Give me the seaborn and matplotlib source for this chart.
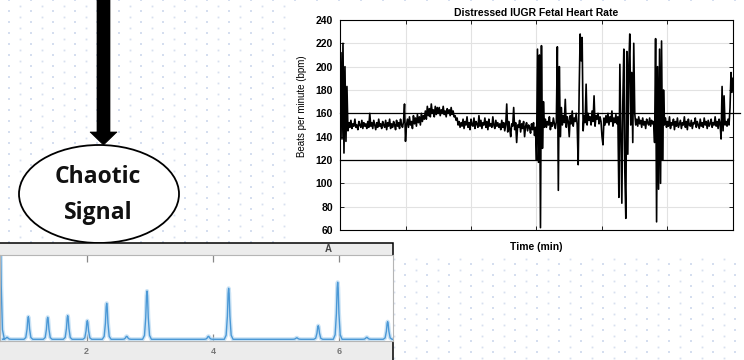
import numpy as np
import matplotlib
matplotlib.use("Agg")
import matplotlib.pyplot as plt
from matplotlib.patches import Ellipse, Polygon, Rectangle
import seaborn as sns

# === 1. Datos ===
# frecuencia cardiaca (bpm), un valor por pixel aprox.
hr_inicio = [150, 212, 138, 220, 126, 200, 136, 183]
hr_base_1 = [145, 152, 148, 154, 147, 151, 149, 155, 148, 150, 146, 153, 150, 148, 154, 147,
             152, 149, 151, 147, 153, 148, 160, 149, 152, 147, 154, 150, 146, 152, 148, 155,
             149, 151, 147, 153, 150, 148, 154, 146, 152, 149, 155, 147, 151, 148, 153, 150,
             146, 154, 149, 152, 147, 155, 150, 148, 153]
hr_subida = [168, 136, 150, 155, 148, 157, 150, 153, 147, 158, 151, 156, 149, 159, 152, 157,
             150, 160, 153, 158, 155, 162, 155, 166, 158, 164, 157, 168, 160, 163, 157, 166,
             159, 165]
hr_meseta = [160, 165, 158, 163, 160, 166, 159, 162, 157, 164, 160, 163, 158, 165, 159, 162,
             157, 158, 154, 156, 150, 153, 148, 152]
hr_base_2 = [149, 155, 147, 153, 150, 157, 148, 152, 146, 155, 150, 149, 156, 147, 153, 151,
             148, 158, 149, 154, 147, 152, 150, 156, 148, 153, 146, 155, 149, 151, 148, 157,
             150, 147, 154, 149, 152, 148,
             151, 146, 154, 148, 152, 145, 150, 168, 144, 153, 147, 140, 151, 149, 165, 146,
             152, 135, 150, 148, 154, 144, 151, 147, 153, 140, 149, 152, 145, 150, 148, 143,
             151, 146, 152, 141, 148]
hr_caos_1 = [120, 215, 118, 210, 62, 218, 130, 170, 148,
             155, 148, 153, 150, 157, 146, 152, 149, 156, 151, 147, 153,
             217, 94, 200, 140, 165,
             150, 158, 152, 172, 148, 157, 153, 140, 158, 151, 162, 149, 156, 153, 160, 150,
             116, 180, 228, 205, 225, 145,
             158, 152, 185, 150, 160, 154, 157, 150, 162, 153, 175, 149, 158, 155, 160, 151,
             157, 153, 140, 133, 156, 150, 158,
             152, 160, 150, 157, 153, 162, 149, 156, 152, 159, 151, 157]
hr_caos_2 = [88, 202, 140, 83, 170, 215, 110, 70, 213, 125, 200, 228, 150, 195, 135, 220,
             160, 150,
             155, 149, 157, 151, 154, 148, 156, 150, 153, 147, 155, 152, 150, 156, 149, 154,
             151, 153,
             135, 224, 67, 200, 95, 215, 100, 222, 120, 180]
hr_final = [150, 156, 148, 153, 149, 157, 147, 152, 150, 155, 146, 153, 149, 156, 148, 151,
            154, 147, 152, 150, 157, 148, 153, 146, 155, 150, 149, 154, 147, 152, 151, 156,
            148, 153, 150, 147, 155, 149, 152, 148, 156, 150, 153, 147, 154, 149, 151, 155,
            148, 152, 150, 157, 149, 153, 147, 155, 151,
            138, 183, 145, 175, 150,
            153, 149, 155, 150, 165, 195, 178, 190]

hr = np.array(hr_inicio + hr_base_1 + hr_subida + hr_meseta + hr_base_2
              + hr_caos_1 + hr_caos_2 + hr_final, dtype=float)
t_min = np.linspace(0, 6, len(hr))

y_ticks = [60, 80, 100, 120, 140, 160, 180, 200, 220, 240]
lineas_ref = [160, 120]

# espectro (panel A): posicion y altura de los picos
pico_pos = [0.625, 0.737, 1.075, 1.382, 1.699, 2.010, 2.317, 2.634, 2.956, 3.930, 4.250,
            5.330, 5.670, 5.978, 6.440, 6.770]
pico_alto = [120, 2, 22.6, 22, 23.6, 18.6, 36, 3, 48.3, 3, 51, 1.5, 13.6, 57, 2, 17.6]
x_ticks_a = [2, 4, 6]

# === 2. Figura ===
fig = plt.figure(figsize=(7.44, 3.6), dpi=100)


def caja(x0, y0, x1, y1):
    return [x0 / 744, 1 - y1 / 360, (x1 - x0) / 744, (y1 - y0) / 360]


# fondo punteado (coordenadas en pixeles)
bg = fig.add_axes([0, 0, 1, 1])
bg.set_xlim(0, 744)
bg.set_ylim(360, 0)
bg.axis("off")
gx, gy = np.meshgrid(np.arange(9, 744, 22), np.arange(0, 362, 11))
bg.plot(gx.ravel(), gy.ravel(), "s", ms=1.9, color="#d5deef", mew=0, zorder=1)
gx2, gy2 = np.meshgrid(np.arange(-2, 744, 22), np.arange(5.5, 362, 11))
bg.plot(gx2.ravel(), gy2.ravel(), "s", ms=1.3, color="#d8e0ef", mew=0, zorder=1)

bg.add_patch(Rectangle((293, 5), 460, 250, facecolor="white", edgecolor="none", zorder=3))

# flecha y elipse
bg.add_patch(Polygon([(97, -5), (110, -5), (110, 132), (117, 132), (103.5, 145),
                      (90, 132), (97, 132)], closed=True, facecolor="black",
                     edgecolor="black", lw=0.5, zorder=3))
bg.add_patch(Ellipse((99, 194), 160, 98, facecolor="white", edgecolor="black", lw=1.3,
                     zorder=3))
bg.text(98, 177, "Chaotic", ha="center", va="center", fontsize=16.5,
        fontweight="bold", family="Open Sans", color="#111111", zorder=4)
bg.text(98, 213, "Signal", ha="center", va="center", fontsize=16.5,
        fontweight="bold", family="Open Sans", color="#111111", zorder=4)

# panel A: marco gris
bg.add_patch(Rectangle((-2, 243), 395, 130, facecolor="#ececec", edgecolor="black", lw=1.1,
                       zorder=3))
bg.text(328, 249, "A", ha="center", va="center", fontsize=7, fontweight="bold",
        color="#444444", family="Liberation Sans", zorder=4)

# === 3. Frecuencia cardiaca ===
ax = fig.add_axes(caja(340, 20, 733, 230))
sns.lineplot(x=t_min, y=hr, ax=ax, color="black", lw=1.2, estimator=None, sort=False)
for v in lineas_ref:
    ax.plot([0, 6.1 if v == 160 else 6], [v, v], color="black", lw=0.9, clip_on=False)
ax.set_xlim(0, 6)
ax.set_ylim(60, 240)
ax.set_yticks(y_ticks)
ax.set_yticklabels([str(v) for v in y_ticks], fontweight="bold", fontsize=7.5,
                   family="Liberation Sans")
ax.set_xticks([1, 2, 3, 4, 5])
ax.set_xticklabels([])
ax.tick_params(direction="in", length=3, width=0.6, right=True, top=True, pad=5)
ax.grid(True, color="#e2e2e2", lw=0.8)
ax.set_axisbelow(True)
for s in ax.spines.values():
    s.set_color("black")
    s.set_linewidth(0.8)
ax.set_title("Distressed IUGR Fetal Heart Rate", fontsize=7.5, fontweight="bold",
             family="Liberation Sans", pad=3)
ax.set_xlabel("Time (min)", fontsize=7.5, fontweight="bold", family="Liberation Sans")
ax.xaxis.set_label_coords(0.5, -0.055)
ax.set_ylabel("Beats per minute (bpm)", fontsize=7, family="Liberation Sans")
ax.yaxis.set_label_coords(-0.085, 0.59)

# === 4. Panel A: espectro ===
axa = fig.add_axes(caja(0, 255, 393, 341))
perfil_dx = [-0.07, -0.04, -0.02, -0.008, 0, 0.008, 0.02, 0.04, 0.07]
perfil_f = [0, 0.08, 0.45, 0.9, 1, 0.9, 0.45, 0.08, 0]
xs, ys = [0.5], [0]
for c, h in zip(pico_pos, pico_alto):
    xs += [c + d for d in perfil_dx]
    ys += [h * f for f in perfil_f]
xs.append(7.0)
ys.append(0)
sns.lineplot(x=xs, y=ys, ax=axa, color="#b6d8f2", lw=3.0, alpha=0.7,
             estimator=None, sort=False)
sns.lineplot(x=xs, y=ys, ax=axa, color="#4a98d6", lw=1.0, estimator=None, sort=False)
axa.set_xlim(0.626, 6.855)
axa.set_ylim(-1.7, 84.3)
axa.set_facecolor("white")
axa.set_xticks(x_ticks_a)
axa.set_xticklabels([str(v) for v in x_ticks_a], fontsize=6.5, color="#777777",
                    fontweight="bold", family="Liberation Sans")
axa.set_yticks([])
axa.tick_params(axis="x", direction="in", length=5, width=0.9, color="#888888",
                top=True, pad=4)
for s in axa.spines.values():
    s.set_color("#b5b5b5")
    s.set_linewidth(0.8)

fig.savefig("out.png", dpi=100)
